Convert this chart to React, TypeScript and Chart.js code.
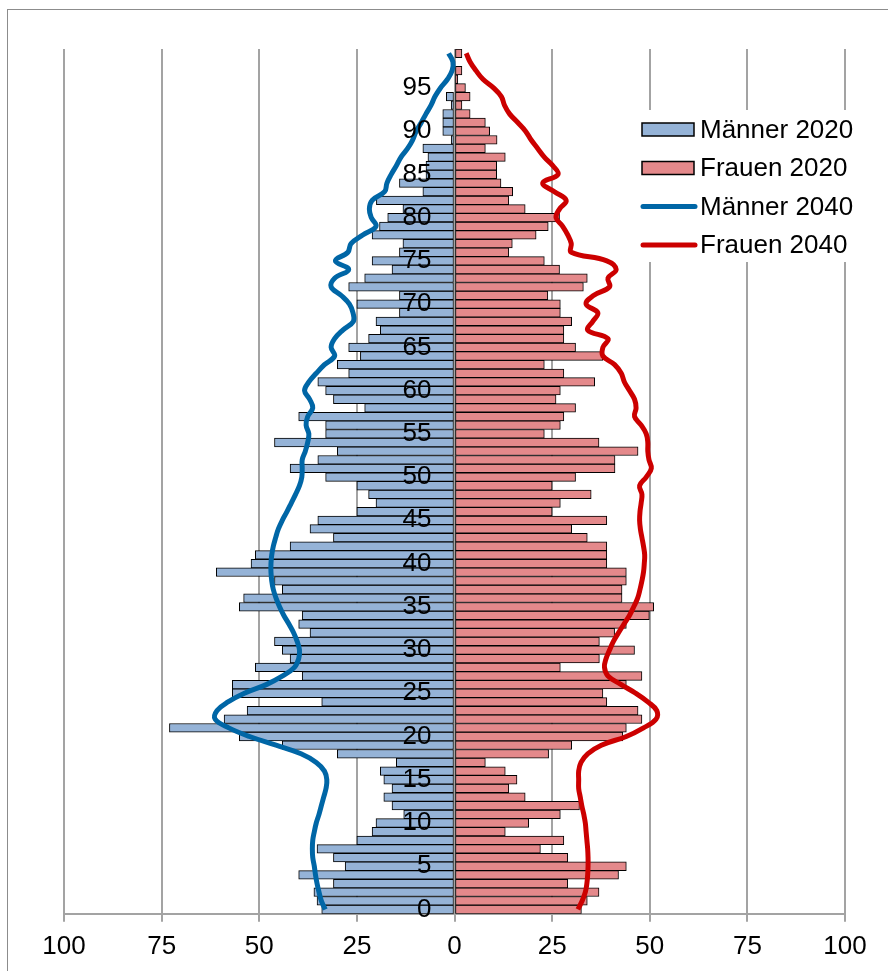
import React, { useEffect, useRef } from 'react';
import { Chart, registerables } from 'chart.js';

Chart.register(...registerables);

// Age categories 0..99
const ages: string[] = [
  '0','1','2','3','4','5','6','7','8','9',
  '10','11','12','13','14','15','16','17','18','19',
  '20','21','22','23','24','25','26','27','28','29',
  '30','31','32','33','34','35','36','37','38','39',
  '40','41','42','43','44','45','46','47','48','49',
  '50','51','52','53','54','55','56','57','58','59',
  '60','61','62','63','64','65','66','67','68','69',
  '70','71','72','73','74','75','76','77','78','79',
  '80','81','82','83','84','85','86','87','88','89',
  '90','91','92','93','94','95','96','97','98','99',
];

// Männer 2020 (shown to the left)
const men2020: number[] = [
  34.0, 35.2, 36.0, 31.0, 39.9, 28.0, 31.0, 35.2, 25.0, 21.1,
  20.1, 13.0, 16.0, 18.1, 16.0, 18.1, 19.0, 14.9, 30.0, 44.1,
  55.1, 73.0, 59.0, 53.1, 34.0, 56.9, 56.9, 39.0, 51.0, 42.1,
  44.1, 46.1, 37.0, 39.9, 39.0, 55.1, 54.0, 44.1, 46.1, 61.0,
  52.1, 51.0, 42.1, 31.0, 37.0, 35.0, 25.0, 20.1, 22.0, 25.0,
  33.0, 42.1, 35.0, 30.0, 46.1, 33.0, 33.0, 39.9, 23.0, 31.0,
  33.0, 35.0, 27.1, 30.0, 24.1, 27.1, 22.0, 19.0, 20.1, 14.1,
  25.0, 14.1, 27.1, 23.0, 16.0, 21.1, 14.1, 13.2, 21.1, 19.2,
  17.1, 13.2, 20.0, 8.1, 14.1, 7.3, 7.3, 6.8, 8.1, 0.85,
  3.0, 3.0, 3.0, 0.85, 2.1, 0, 0, 0, 0, 0,
];

// Frauen 2020 (shown to the right)
const women2020: number[] = [
  32.5, 34.0, 37.0, 29.0, 42.0, 44.0, 29.0, 22.0, 28.0, 13.0,
  19.0, 27.1, 32.0, 18.1, 13.9, 16.0, 13.0, 7.9, 24.1, 30.0,
  43.1, 44.0, 48.0, 47.0, 39.0, 38.0, 44.0, 48.0, 27.1, 37.1,
  46.1, 37.1, 41.0, 44.0, 49.9, 51.0, 42.9, 42.9, 44.0, 44.0,
  39.0, 39.0, 39.0, 34.0, 30.0, 39.0, 25.0, 27.1, 35.0, 25.0,
  31.0, 41.1, 41.1, 47.0, 37.0, 23.0, 27.1, 28.0, 31.0, 26.0,
  27.1, 35.9, 28.0, 23.0, 38.0, 31.0, 28.0, 28.0, 30.0, 27.1,
  27.1, 23.9, 33.0, 34.0, 26.9, 23.0, 13.9, 14.8, 20.9, 24.0,
  26.9, 18.1, 13.9, 14.9, 11.9, 10.8, 10.8, 13.0, 7.9, 10.9,
  9.0, 7.9, 4.0, 1.9, 4.0, 2.8, 0.85, 1.9, 0, 1.9,
];

// Männer 2040 (line, left side)
const men2040: number[] = [
  33.1, 34.1, 34.7, 35.2, 35.6, 35.9, 36.3, 36.4, 36.3, 35.9,
  35.4, 34.7, 34.1, 33.5, 32.9, 32.7, 33.3, 35.4, 39.3, 45.7,
  52.5, 57.8, 61.3, 60.8, 58.0, 53.8, 48.2, 44.0, 41.0, 39.9,
  39.7, 40.3, 41.2, 42.4, 43.7, 44.8, 45.7, 46.4, 46.8, 47.0,
  47.0, 46.8, 46.4, 45.8, 45.1, 44.1, 42.9, 41.8, 40.7, 39.7,
  39.1, 39.0, 39.0, 38.2, 37.6, 37.3, 38.0, 37.6, 36.3, 37.1,
  38.4, 37.3, 35.4, 33.3, 30.7, 31.6, 30.7, 28.6, 25.9, 26.0,
  26.9, 29.0, 31.6, 30.7, 27.1, 30.5, 27.3, 26.5, 23.5, 20.1,
  21.3, 21.8, 21.1, 17.9, 17.3, 16.2, 14.9, 13.7, 12.0, 10.7,
  9.8, 8.5, 7.3, 6.0, 5.0, 3.6, 1.8, 0.6, 0.4, 1.5,
];

// Frauen 2040 (line, right side)
const women2040: number[] = [
  31.6, 32.7, 33.5, 33.9, 34.1, 34.2, 34.2, 34.1, 33.9, 33.7,
  33.5, 33.1, 32.6, 32.2, 31.8, 31.8, 31.8, 32.4, 34.1, 37.6,
  44.0, 48.4, 51.6, 51.8, 49.5, 46.4, 42.7, 39.3, 38.4, 38.8,
  39.7, 40.7, 42.0, 43.4, 44.8, 45.9, 46.9, 47.5, 48.0, 48.4,
  48.6, 48.7, 48.4, 48.0, 47.6, 47.4, 47.5, 47.8, 48.0, 47.4,
  49.1, 50.4, 49.8, 49.5, 49.5, 49.1, 47.8, 46.1, 46.5, 46.1,
  44.8, 43.5, 42.7, 41.0, 38.0, 38.0, 39.3, 34.1, 35.4, 36.7,
  33.7, 35.6, 39.7, 39.3, 41.4, 39.0, 29.9, 29.9, 29.0, 27.7,
  26.0, 26.9, 28.6, 25.6, 22.6, 26.5, 25.2, 23.0, 21.3, 19.6,
  18.2, 16.2, 14.1, 12.8, 12.0, 10.0, 7.3, 5.5, 4.0, 3.0,
];

const seriesLabels: string[] = ['Männer 2020', 'Frauen 2020', 'Männer 2040', 'Frauen 2040'];

const FONT = '"Liberation Sans", Arial, Helvetica, sans-serif';
const MALE_BAR = '#95b3d7';
const FEMALE_BAR = '#e4898b';
const MALE_LINE = '#0066a6';
const FEMALE_LINE = '#cc0000';
const GRID = '#a3a3a3';

const legendPlugin = {
  id: 'customLegend',
  afterDraw(chart: any) {
    const ctx = chart.ctx;
    ctx.save();
    ctx.fillStyle = '#ffffff';
    ctx.fillRect(634, 110, 240, 152);
    const startY = 129.5;
    const step = 38.5;
    chart.data.datasets.forEach((ds: any, i: number) => {
      const cy = startY + i * step;
      if (ds.type === 'bar') {
        ctx.fillStyle = ds.backgroundColor;
        ctx.fillRect(642, cy - 6.5, 52, 13);
        ctx.lineWidth = 1.5;
        ctx.strokeStyle = '#000';
        ctx.strokeRect(642, cy - 6.5, 52, 13);
      } else {
        ctx.strokeStyle = ds.borderColor;
        ctx.lineWidth = 5;
        ctx.lineCap = 'round';
        ctx.beginPath();
        ctx.moveTo(643, cy);
        ctx.lineTo(695, cy);
        ctx.stroke();
      }
      ctx.fillStyle = '#000';
      ctx.font = `26px ${FONT}`;
      ctx.textAlign = 'left';
      ctx.textBaseline = 'middle';
      ctx.fillText(ds.label, 700, cy + 1);
    });
    ctx.restore();
  },
};

export default function App() {
  const canvasRef = useRef<HTMLCanvasElement | null>(null);

  useEffect(() => {
    if (!canvasRef.current) return;
    const barCommon = {
      borderColor: '#000',
      borderWidth: 1,
      borderSkipped: false,
      barPercentage: 1,
      categoryPercentage: 1,
      grouped: false,
      order: 2,
    };
    const lineCommon = {
      indexAxis: 'y',
      borderWidth: 5,
      pointRadius: 0,
      tension: 0.4,
      fill: false,
      order: 1,
    };
    const chart = new Chart(canvasRef.current, {
      type: 'bar',
      data: {
        labels: ages,
        datasets: [
          { type: 'bar', label: seriesLabels[0], data: men2020.map((v) => -v), backgroundColor: MALE_BAR, ...barCommon } as any,
          { type: 'bar', label: seriesLabels[1], data: women2020, backgroundColor: FEMALE_BAR, ...barCommon } as any,
          { type: 'line', label: seriesLabels[2], data: men2040.map((v) => -v), borderColor: MALE_LINE, backgroundColor: MALE_LINE, ...lineCommon } as any,
          { type: 'line', label: seriesLabels[3], data: women2040, borderColor: FEMALE_LINE, backgroundColor: FEMALE_LINE, ...lineCommon } as any,
        ],
      },
      options: {
        indexAxis: 'y',
        responsive: false,
        animation: false,
        devicePixelRatio: 1,
        layout: { padding: { left: 64, right: 43, top: 49, bottom: 0 } },
        plugins: {
          legend: { display: false },
          tooltip: { enabled: false },
          title: { display: false },
        },
        scales: {
          x: {
            type: 'linear',
            min: -100,
            max: 100,
            ticks: {
              stepSize: 25,
              padding: 9,
              color: '#000',
              font: { family: FONT, size: 26 },
              callback: (v: any) => String(Math.abs(Number(v))),
            },
            grid: { color: GRID, lineWidth: 2, tickLength: 8, drawTicks: true },
            border: { color: GRID, width: 2 },
          },
          y: {
            type: 'category',
            position: { x: -5.9 } as any,
            reverse: true,
            grid: { display: false, drawTicks: false },
            border: { display: false },
            ticks: {
              z: 1,
              autoSkip: false,
              padding: 0,
              color: '#000',
              font: { family: FONT, size: 26 },
              callback: (v: any) => {
                const lab = ages[Number(v)];
                return Number(lab) % 5 === 0 ? lab : '';
              },
            },
          },
        },
      } as any,
      plugins: [legendPlugin],
    });
    return () => chart.destroy();
  }, []);

  return (
    <div style={{ position: 'absolute', left: 0, top: 0, width: 888, height: 971, overflow: 'hidden', background: '#fff' }}>
      <div
        style={{
          position: 'absolute',
          left: 7,
          top: 9,
          width: 1000,
          height: 1000,
          border: '1.5px solid #8c8c8c',
          boxSizing: 'border-box',
        }}
      />
      <canvas
        ref={canvasRef}
        width={888}
        height={971}
        style={{ position: 'absolute', left: 0, top: 0, width: 888, height: 971 }}
      />
    </div>
  );
}
